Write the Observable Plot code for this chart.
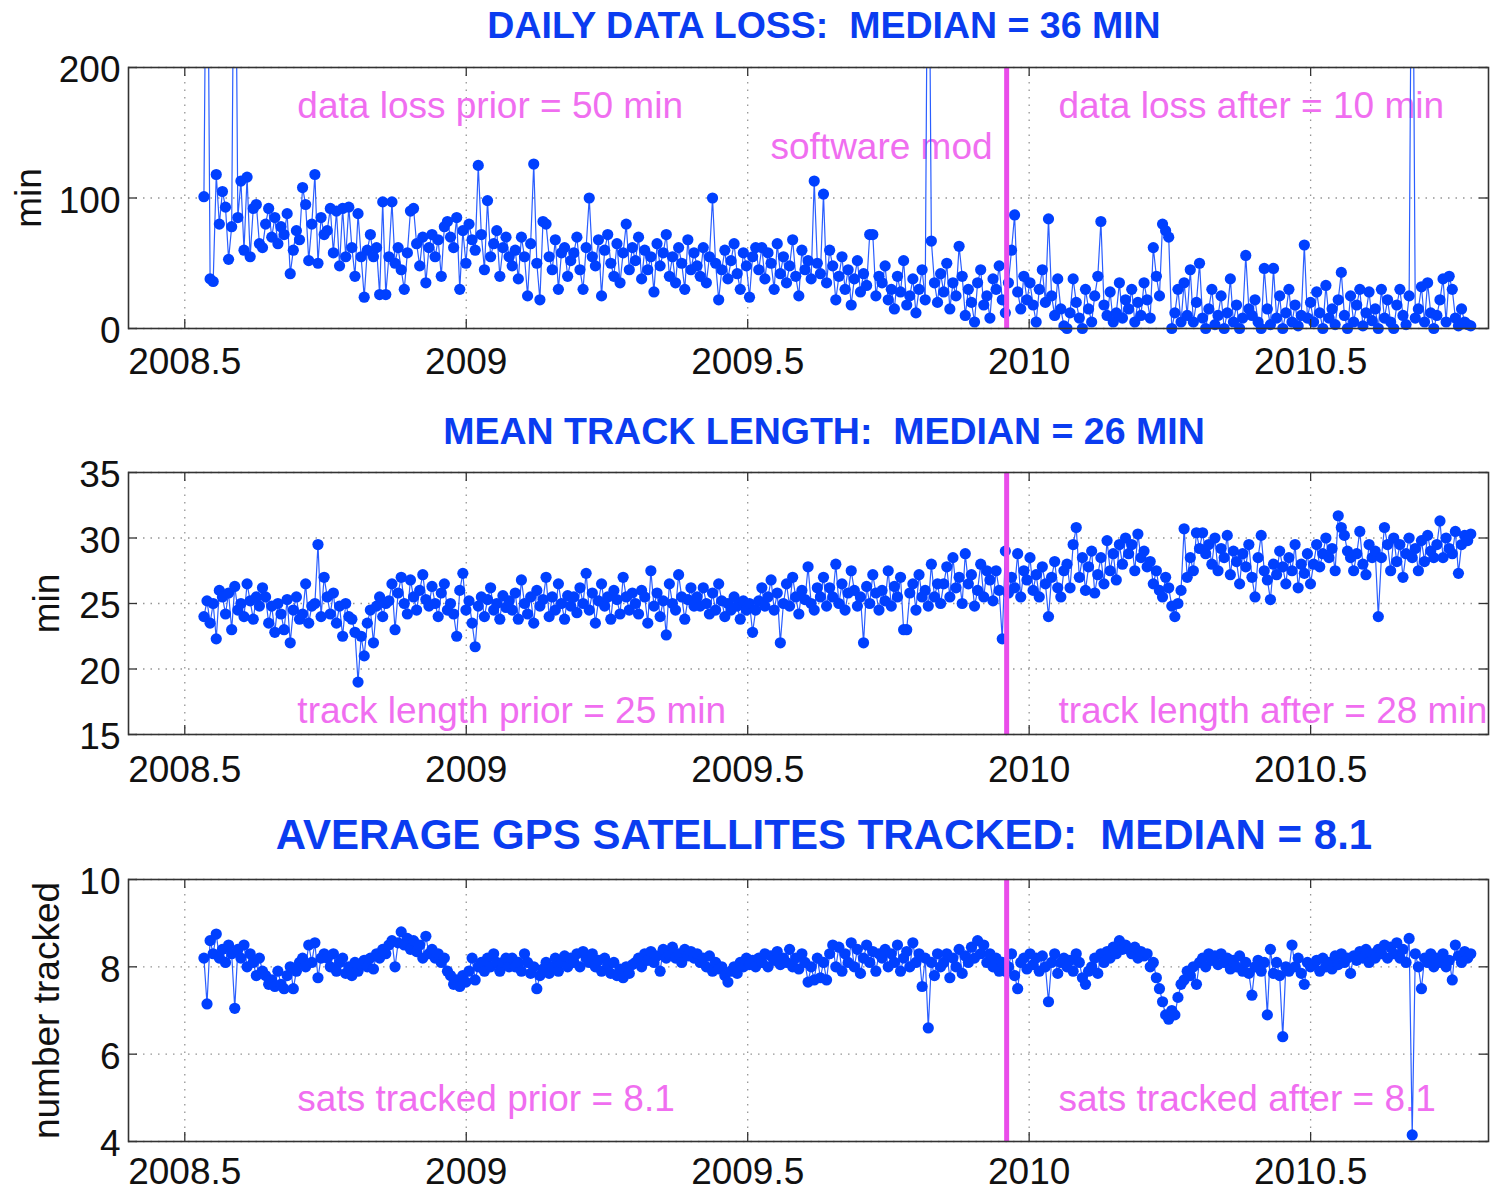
<!DOCTYPE html>
<html><head><meta charset="utf-8">
<script src="https://cdn.jsdelivr.net/npm/d3@7"></script>
<script src="https://cdn.jsdelivr.net/npm/@observablehq/plot@0.6"></script>
<style>
html,body{margin:0;padding:0;background:#fff;}
body{width:1490px;height:1189px;overflow:hidden;font-family:"Liberation Sans",Arial,Helvetica,sans-serif;}
#wrap{position:relative;width:1490px;height:1189px;}
.title{position:absolute;left:0;width:1648px;text-align:center;color:#0a3cf0;font-weight:bold;line-height:1;white-space:pre;}
.panel{position:absolute;left:0;}
</style></head><body><div id="wrap"></div>
<script>
// time axis: one sample every two days, starting mid-July 2008
const startYear = 2008.534;
const stepYears = 2 / 365.25;
const modYear = [2009.96];
const xTicks = [2008.5, 2009, 2009.5, 2010, 2010.5];

const titles = [
  "DAILY DATA LOSS:  MEDIAN = 36 MIN",
  "MEAN TRACK LENGTH:  MEDIAN = 26 MIN",
  "AVERAGE GPS SATELLITES TRACKED:  MEDIAN = 8.1"
];
const yLabels = ["min", "min", "number tracked"];
const yTicks1 = [0, 100, 200];
const yTicks2 = [15, 20, 25, 30, 35];
const yTicks3 = [4, 6, 8, 10];

// daily data loss (min); values above 200 run off the top of the panel
const dataLoss = [
101,400,38,36,118,80,105,93,53,78,400,85,113,60,116,55,92,95,65,62,
80,92,70,85,65,78,72,88,42,60,75,68,108,95,52,80,118,50,85,72,
75,92,58,90,48,92,55,93,62,40,88,55,24,60,72,55,62,26,97,26,
55,97,50,62,45,30,58,90,92,65,48,70,35,62,72,55,68,40,78,82,
70,62,85,30,75,50,80,68,60,125,72,45,98,55,65,75,40,62,70,55,
48,60,38,70,55,25,65,126,50,22,82,80,55,45,68,30,58,62,40,52,
58,70,45,30,62,100,55,48,68,25,60,72,50,40,65,35,58,80,45,62,
52,70,38,60,45,55,28,65,48,58,72,40,55,35,62,50,30,68,45,58,
48,40,62,35,55,100,50,22,45,60,38,52,65,42,30,58,48,24,55,62,
45,62,38,58,50,30,65,42,55,35,48,68,40,25,60,45,52,38,113,50,
42,103,35,60,48,22,40,55,30,45,18,38,52,28,42,33,72,72,25,40,
35,48,22,30,15,40,28,52,18,25,38,12,30,45,22,400,67,35,20,42,
28,50,15,35,25,63,40,10,30,20,5,35,45,18,25,8,38,30,48,22,
12,35,60,87,28,15,40,22,35,18,5,30,45,20,84,25,10,38,15,2,
0,12,38,20,8,0,30,15,5,25,40,82,18,10,28,5,12,35,8,22,
15,30,5,20,10,35,22,8,62,40,25,80,75,70,0,12,30,5,35,10,
45,5,20,50,8,0,15,30,3,10,25,0,12,38,5,18,0,8,56,15,
10,22,5,0,46,15,3,46,8,25,0,12,30,5,18,2,10,64,8,20,
5,28,12,0,33,8,15,3,22,43,10,0,25,5,18,30,2,12,28,6,
15,0,30,8,22,5,0,18,30,10,3,25,400,8,15,32,5,35,12,0,
10,22,38,5,40,30,8,2,15,5,3,2
];

// mean track length (min)
const trackLength = [
24,25.2,23.5,25,22.3,26,25.5,24.2,25.8,23,26.3,24.5,25,24,26.5,25.2,23.8,25.5,24.8,26.2,
25.5,23.5,24.8,22.8,25,24.2,23,25.3,22,24.5,25.5,23.8,24.2,26.5,23.5,24.8,25,29.5,24,27,
25.5,24.2,25.8,23.5,24.8,22.5,25,24,23.8,22.8,19,22.5,21,23.5,24.5,22,24.8,25.5,24,25,
25.2,26.5,23,25.8,27,25,24.2,26.8,25.5,24.5,26,27.2,25.3,24.8,26.3,25,24,25.8,26.5,24.5,
25,24.2,22.5,26,27.3,24.5,25.2,23.5,21.7,24.8,25.5,24,25.3,26.2,24.5,25,23.8,25.6,24.7,25.2,
24.5,25.8,23.8,26.8,25,24.2,25.5,23.5,26,24.8,25.3,27,24,25.5,24.5,26.5,25,23.8,25.6,24.8,
25.5,24.3,26.2,25,27.3,24.5,25.8,23.5,25.2,26.5,24.8,25.5,23.8,26,25.3,24.2,27,25.5,24.5,25.8,
25,24.2,26,25.5,23.5,27.5,24.8,25.8,24,25.2,22.6,26.5,25,24.5,27.2,25.5,23.8,25.3,26.2,24.8,
25.5,24.8,26.2,25,24.2,25.8,24.5,26.5,25.2,24,25,24.5,25.5,24.8,23.8,25.2,24.5,25,22.8,24.5,
25.2,26.2,24.8,25.5,26.8,24.5,25.8,22,25,26.5,24.8,27,25.5,24.2,26,25.3,27.8,25,24.5,26.2,
25.5,27,24.8,26.2,25.5,28,25,26.5,24.5,25.8,27.5,26,24.8,25.5,22,26.3,25,27.2,25.8,24.5,
26,25.2,27.5,24.8,26.3,25.5,27,23,23,25.8,26.5,24.5,27.2,25.5,26,24.8,28,25.5,26.5,25,
26.5,27.8,25.5,28.5,26.2,27,25,28.8,26.5,27.2,24.8,26,28,25.5,27.5,26.8,25.2,27.5,26,22.3,
29,25.8,27,26.2,28.8,25.5,27.5,26.8,28.5,26,27.2,25.5,27.8,26.5,24,27,28.2,26.2,25.5,27.5,
28,26.2,29.5,30.8,27,28.5,26,27.8,29,25.8,27.2,28.5,26.5,29.8,27.5,28.8,26.8,29.5,28,30,
28.8,29.5,27.5,30.3,28.5,29,27.8,28.2,26.5,27.5,26,25.5,27,26.2,24.8,24,25,26,30.7,27,
28.5,27.5,30.4,29.2,30.4,28.8,29.5,28,30,27.5,29.2,28.5,30.2,27.2,29,28.2,26.5,28.8,27.8,29.5,
27,25.5,28.5,30.2,27.5,26.8,25.3,28,27.2,29,27.8,26.5,28.5,27.5,29.5,26.2,28,27.3,28.8,26.5,
28,29.5,27.8,28.8,30,28.5,29.2,27.5,31.7,30.8,30.2,29,28.5,27.5,28.8,30.5,28,27.2,29.5,28.5,
29,24,28.5,30.8,29.5,27.5,30,28.2,29.5,27,28.8,30,28.5,29.2,27.5,29.8,28.2,30.2,29,28.5,
29.5,31.3,28.5,30,29.2,28.8,30.5,27.3,29.5,30.2,29.8,30.3
];

// average number of GPS satellites tracked
const satsTracked = [
8.2,7.15,8.6,8.3,8.75,8.2,8.4,8.1,8.5,8.3,7.05,8.4,8.2,8.5,8.0,8.3,8.1,7.8,8.2,7.9,
7.8,7.6,7.7,7.55,7.9,7.6,7.5,7.8,8.0,7.5,7.9,8.1,8.2,8.0,8.5,8.1,8.55,7.75,8.2,8.3,
8.2,8.0,8.3,7.9,8.1,8.2,7.85,8.0,7.8,8.1,7.9,8.05,8.15,8.0,8.2,7.95,8.3,8.2,8.4,8.3,
8.5,8.6,8.0,8.55,8.8,8.5,8.65,8.4,8.6,8.35,8.5,8.2,8.7,8.3,8.4,8.2,8.3,8.1,8.2,7.9,
7.8,7.6,7.7,7.55,7.8,7.65,7.9,8.2,7.7,8.0,8.1,7.9,8.2,8.0,8.3,8.1,7.9,8.1,8.2,8.0,
8.2,8.0,8.1,7.9,8.3,8.1,7.85,8.0,7.5,7.8,7.95,8.1,7.85,8.0,8.2,7.9,8.1,8.25,8.0,8.2,
8.1,8.3,8.0,8.35,8.2,8.1,8.3,8.0,8.15,7.9,8.2,8.05,7.85,8.1,7.8,7.95,7.75,8.0,7.85,8.05,
8.1,8.2,8.0,8.3,8.15,8.35,8.1,8.25,7.9,8.4,8.2,8.3,8.45,8.2,8.3,8.1,8.4,8.25,8.35,8.2,
8.3,8.1,8.2,8.0,8.25,7.9,8.1,7.95,8.0,7.8,7.65,7.9,8.0,7.85,8.1,8.0,8.2,8.05,8.15,8.0,
8.2,8.1,8.3,8.0,8.25,8.15,8.35,8.05,8.2,8.1,8.4,8.0,8.2,7.95,8.3,8.1,7.65,8.0,7.7,8.2,
7.75,8.1,7.7,8.3,8.5,8.0,8.45,7.9,8.3,8.1,8.55,8.0,8.4,7.85,8.2,8.5,8.1,8.35,7.9,8.3,
8.2,8.4,8.0,8.3,8.1,8.5,7.9,8.2,8.35,8.0,8.55,8.1,8.3,7.55,8.2,6.6,8.1,7.8,8.3,8.0,
8.1,8.3,7.75,8.2,8.0,8.4,7.85,8.25,8.1,8.45,8.2,8.6,8.3,8.5,8.1,8.3,8.0,8.2,7.9,8.1,
7.9,8.0,8.3,7.8,7.5,8.1,8.2,7.95,8.3,8.05,8.2,7.9,8.25,8.0,7.2,8.1,8.3,7.85,8.1,8.2,
8.0,8.15,7.9,8.3,8.1,7.75,7.6,7.9,8.0,8.2,7.85,8.3,8.1,8.35,8.2,8.45,8.3,8.6,8.4,8.5,
8.4,8.3,8.45,8.2,8.35,8.25,8.3,8.0,8.1,7.75,7.5,7.2,6.9,6.8,7.0,6.9,7.3,7.6,7.7,7.9,
7.8,8.0,7.6,8.1,8.2,8.0,8.3,8.15,8.25,8.05,8.3,8.1,8.2,7.95,8.15,8.0,8.25,7.9,8.1,7.85,
7.35,8.0,8.15,7.9,8.1,6.9,8.4,7.85,8.1,7.8,6.4,8.0,7.9,8.5,8.0,8.2,7.85,7.6,8.1,8.0,
8.05,8.15,7.9,8.2,8.0,8.1,7.95,8.25,8.05,8.3,8.1,8.2,7.85,8.25,8.15,8.35,8.2,8.4,8.1,8.3,
8.2,8.4,8.3,8.5,8.2,8.45,8.3,8.55,8.2,8.4,8.1,8.65,4.15,8.3,8.0,7.5,8.2,8.1,8.3,8.0,
8.2,8.1,8.3,8.0,8.15,7.7,8.5,8.25,8.1,8.35,8.2,8.3
];

const notes1 = [
  {text: "data loss prior = 50 min", x: 2008.700, y: 170},
  {text: "software mod", x: 2009.5405, y: 139},
  {text: "data loss after = 10 min", x: 2010.052, y: 170}
];
const notes2 = [
  {text: "track length prior = 25 min", x: 2008.700, y: 16.8},
  {text: "track length after = 28 min", x: 2010.052, y: 16.8}
];
const notes3 = [
  {text: "sats tracked prior = 8.1", x: 2008.700, y: 4.98},
  {text: "sats tracked after = 8.1", x: 2010.052, y: 4.98}
];

const BLUE = "#0040ff";
const LINE = "#2a5eff";
const MAGENTA = "#ea4cea";
const NOTE = "#f06ef0";
const FONT = "Liberation Sans, Arial, Helvetica, sans-serif";

function makePanel(values, yDomain, yTicks, yLabel, notes, height, mb, padX, labelDx) {
  const data = values.map((v, i) => ({t: startYear + i * stepYears, v}));
  const W = 1490, ml = 128, mr = 2, mt = 17;
  const pw = W - ml - mr, ph = height - mt - mb;
  return Plot.plot({
    width: W, height,
    marginLeft: ml, marginRight: mr, marginTop: mt, marginBottom: mb,
    x: {domain: [2008.4, 2010.816]},
    y: {domain: yDomain},
    style: {fontFamily: FONT, fontSize: "37px", overflow: "visible", background: "transparent", color: "#111"},
    marks: [
      Plot.gridX({ticks: xTicks, stroke: "#8a8a8a", strokeOpacity: 0.9, strokeWidth: 1.3, strokeDasharray: "1.5,6"}),
      Plot.gridY({ticks: yTicks, stroke: "#8a8a8a", strokeOpacity: 0.9, strokeWidth: 1.3, strokeDasharray: "1.5,6"}),
      Plot.text(notes, {x: "x", y: "y", text: "text", textAnchor: "start", fill: NOTE, fontSize: 37}),
      Plot.line(data, {x: "t", y: "v", stroke: LINE, strokeWidth: 1.2, clip: true}),
      Plot.dot(data.filter(d => d.v <= yDomain[1]), {x: "t", y: "v", r: 5.6, fill: BLUE, stroke: "none"}),
      Plot.ruleX(modYear, {stroke: MAGENTA, strokeWidth: 5}),
      Plot.frame({stroke: "#333", strokeWidth: 1.6}),
      Plot.tickX(xTicks, {x: d => d, insetTop: ph - 9, stroke: "#333", strokeWidth: 1.3}),
      Plot.tickX(xTicks, {x: d => d, insetBottom: ph - 9, stroke: "#333", strokeWidth: 1.3}),
      Plot.tickY(yTicks, {y: d => d, insetRight: pw - 9, stroke: "#333", strokeWidth: 1.3}),
      Plot.tickY(yTicks, {y: d => d, insetLeft: pw - 9, stroke: "#333", strokeWidth: 1.3}),
      Plot.axisX({ticks: xTicks, tickSize: 0, tickPadding: padX, fontSize: 37, tickFormat: d => String(d), label: null}),
      Plot.axisY({ticks: yTicks, tickSize: 0, tickPadding: 8, fontSize: 37, tickFormat: d => String(d), label: null, dy: 3}),
      Plot.text([yLabel], {frameAnchor: "left", textAnchor: "middle", dx: labelDx, rotate: -90, fontSize: 37, fill: "#111"})
    ]
  });
}

const wrap = document.getElementById("wrap");
function addTitle(text, top, size) {
  const d = document.createElement("div");
  d.className = "title";
  d.style.top = top + "px";
  d.style.fontSize = size + "px";
  d.textContent = text;
  wrap.appendChild(d);
}
function addPanel(svg, top) {
  svg.classList.add("panel");
  svg.style.top = top + "px";
  svg.style.position = "absolute";
  wrap.appendChild(svg);
}

addTitle(titles[0], 7, 37.5);
addPanel(makePanel(dataLoss, [0, 200], yTicks1, yLabels[0], notes1, 340, 62, 19, -99), 50);
addTitle(titles[1], 413, 37.5);
addPanel(makePanel(trackLength, [15, 35], yTicks2, yLabels[1], notes2, 340, 61, 21, -81), 455);
addTitle(titles[2], 814, 42);
addPanel(makePanel(satsTracked, [4, 10], yTicks3, yLabels[2], notes3, 327, 48, 16, -81), 862);
</script>
</body></html>
